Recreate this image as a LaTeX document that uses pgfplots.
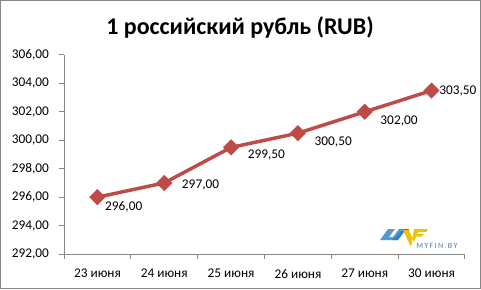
\documentclass[border=0pt]{standalone}
\usepackage{fontspec}
\setmainfont{Carlito}
\usepackage{pgfplots}
\pgfplotsset{compat=1.18}
\definecolor{ser}{HTML}{BE4B48}
\definecolor{axc}{HTML}{868686}
\definecolor{logoblue}{HTML}{2E7FC4}
\definecolor{logoyel}{HTML}{F2C200}
\begin{document}
\begin{tikzpicture}[x=0.75pt,y=0.75pt]
\path[use as bounding box] (0,0) rectangle (481,289);
\draw[color=axc, line width=0.75pt] (0.5,0.5) rectangle (480.5,288.5);
\node[anchor=base, font=\fontsize{18}{20}\selectfont\bfseries, inner sep=0pt] at (240,254) {1 российский рубль (RUB)};
\coordinate (A) at (64,35);
\begin{axis}[
  at={(A)}, anchor=south west,
  scale only axis, width=300.75pt, height=149.25pt,
  xmin=-0.5, xmax=5.5, ymin=292, ymax=306,
  axis lines*=left,
  axis line style={axc, line width=0.75pt},
  xtick={0,...,5},
  xticklabels={23 июня,24 июня,25 июня,26 июня,27 июня,30 июня},
  minor xtick={-0.5,0.5,...,5.5},
  ytick={292,294,...,306},
  tick align=outside,
  major x tick style={draw=none},
  minor tick length=3.75pt,
  major tick length=3.75pt,
  every tick/.style={axc, line width=0.75pt},
  tick label style={font=\fontsize{10}{12}\selectfont, text=black},
  yticklabel style={xshift=-4pt},
  xticklabel style={yshift=-4pt},
  /pgf/number format/assume math mode=true,
  yticklabel={\pgfmathprintnumber[fixed,fixed zerofill,precision=2,use comma,assume math mode=true]{\tick}},
  clip=false,
]
\addplot[ser, line width=2.6pt, mark=square*, mark size=3pt,
  mark options={solid, rotate=45},
  nodes near coords, point meta=explicit symbolic,
  visualization depends on={\thisrow{dx} \as \dx},
  visualization depends on={\thisrow{dy} \as \dy},
  every node near coord/.append style={anchor=west, inner sep=0pt, text=black,
    font=\fontsize{10}{12}\selectfont, xshift=\dx*0.75pt, yshift=\dy*0.75pt}
] table[x=x, y=y, meta=lab] {
x y lab dx dy
0 296.0 296,00 6 -10
1 297.0 297,00 16 -2
2 299.5 299,50 15 -8
3 300.5 300,50 15 -9
4 302.0 302,00 14 -9
5 303.5 303,50 6 0
};
\end{axis}
% logo
\fill[logoblue!80] (380,49) -- (388,60) -- (395,60) -- (389,52) -- (393,52) -- (399,60) -- (404,60) -- (397,49) -- (391,49) -- (385,49) -- cycle;
\fill[logoblue] (392,49) -- (398,49) -- (404,57) -- (406,54) -- (409,60) -- (404,60) -- cycle;
\fill[logoyel] (403,59) -- (409,59) -- (414,47) -- (417,55) -- (420,60) -- (414,60) -- (411,42) -- cycle;
\fill[logoyel] (416,60) -- (428,60) -- (426,57) -- (415,57) -- cycle;
\fill[logoyel] (415,55) -- (424,55) -- (422,52.5) -- (414,52.5) -- cycle;
\node[anchor=west, inner sep=0pt, font=\fontsize{6}{7}\selectfont, text=logoblue!70!gray] at (416,43) {M\,Y\,F\,I\,N\,{\color{logoyel}.}\,B\,Y};
\end{tikzpicture}
\end{document}
